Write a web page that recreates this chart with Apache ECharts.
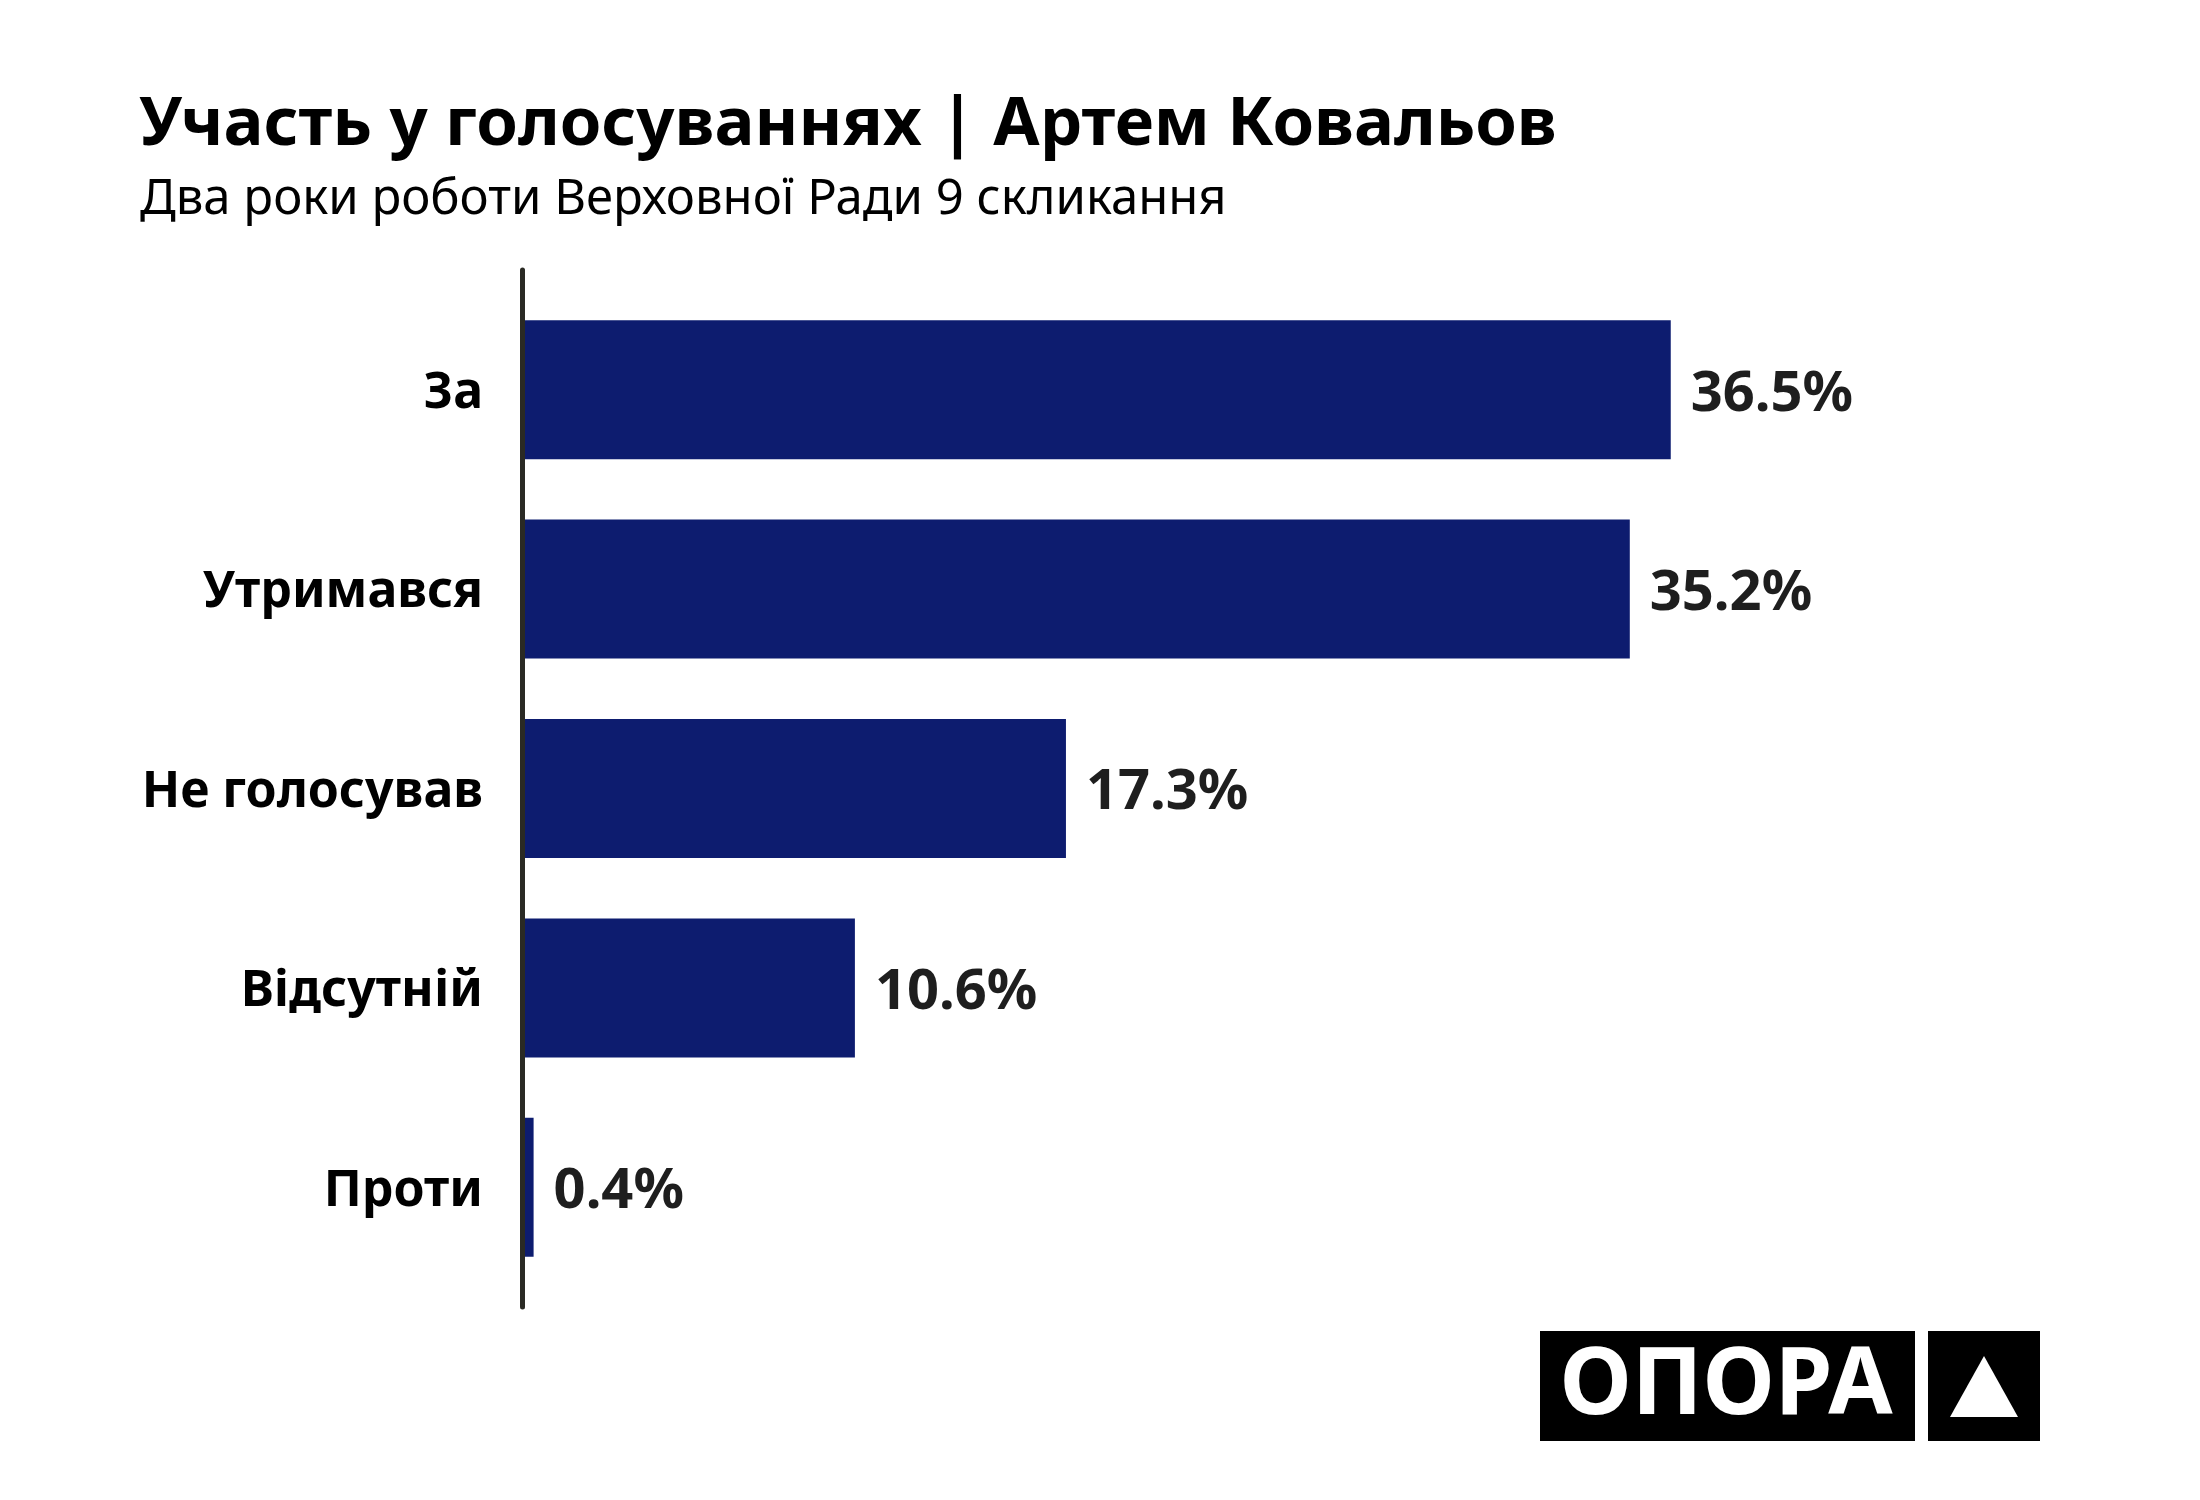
<!DOCTYPE html>
<html>
<head>
<meta charset="utf-8">
<title>Участь у голосуваннях | Артем Ковальов</title>
<script src="https://cdn.jsdelivr.net/npm/echarts@6/dist/echarts.min.js"></script>
<style>
  html, body { margin: 0; padding: 0; background: #ffffff; }
  #chart { width: 2200px; height: 1500px; }
</style>
</head>
<body>
<div id="chart"></div>
<script>
// categories, top to bottom as drawn
var categories = ['За', 'Утримався', 'Не голосував', 'Відсутній', 'Проти'];
// share of votes, %
var shares = [36.5, 35.2, 17.3, 10.6, 0.4];

var titleText = 'Участь у голосуваннях | Артем Ковальов';
var subtitleText = 'Два роки роботи Верховної Ради 9 скликання';

var barColor = '#0d1c6f';
var font = '"Noto Sans", "Open Sans", sans-serif';

var option = {
	backgroundColor: '#ffffff',
	animation: false,
	title: [
		{
			text: titleText,
			left: 134,
			top: 87,
			textStyle: { fontFamily: font, fontSize: 67, fontWeight: 'bold', color: '#000000' }
		},
		{
			text: subtitleText,
			left: 135,
			top: 171,
			textStyle: { fontFamily: font, fontSize: 49, fontWeight: 'normal', color: '#000000' }
		}
	],
	grid: [
		{ left: 521, top: 290, width: 1260, height: 997, containLabel: false },
		// only carries the vertical axis line, a bit taller than the bars area
		{ left: 522, top: 270, width: 10, height: 1037, containLabel: false }
	],
	xAxis: [
		{
			gridIndex: 0,
			type: 'value',
			min: 0,
			max: 40,
			show: false
		},
		{
			gridIndex: 1,
			type: 'value',
			show: false
		}
	],
	yAxis: [
		{
			gridIndex: 0,
			type: 'category',
			inverse: true,
			data: categories,
			axisLine: { show: false },
			axisTick: { show: false },
			splitLine: { show: false },
			axisLabel: {
				margin: 38,
				formatter: function (v) { return '{c|' + v + '}'; },
				rich: {
					c: {
						padding: [8, 0, 0, 0],
						fontFamily: font,
						fontSize: 50,
						fontWeight: 'bold',
						color: '#000000'
					}
				}
			}
		},
		{
			gridIndex: 1,
			type: 'category',
			data: categories,
			z: 5,
			axisLine: { show: true, lineStyle: { color: '#2a2a24', width: 5 } },
			axisTick: { show: false },
			axisLabel: { show: false },
			splitLine: { show: false }
		}
	],
	series: [
		{
			type: 'bar',
			xAxisIndex: 0,
			yAxisIndex: 0,
			data: shares,
			barWidth: 139,
			itemStyle: { color: barColor },
			label: {
				show: true,
				position: 'right',
				distance: 20,
				offset: [0, 5],
				fontFamily: font,
				fontSize: 56,
				fontWeight: 'bold',
				color: '#1e1e1e',
				formatter: function (p) { return p.value.toFixed(1) + '%'; }
			}
		}
	],
	graphic: [
		// OPORA logo, bottom right
		{
			type: 'rect',
			shape: { x: 1540, y: 1331, width: 375, height: 110 },
			style: { fill: '#000000' }
		},
		{
			type: 'text',
			x: 1726,
			y: 1387,
			style: {
				text: 'ОПОРА',
				fill: '#ffffff',
				fontFamily: font,
				fontSize: 93,
				fontWeight: 'bold',
				align: 'center',
				verticalAlign: 'middle'
			}
		},
		{
			type: 'rect',
			shape: { x: 1928, y: 1331, width: 112, height: 110 },
			style: { fill: '#000000' }
		},
		{
			type: 'polygon',
			shape: { points: [[1984, 1356], [2018, 1417], [1950, 1417]] },
			style: { fill: '#ffffff' }
		}
	]
};

var myChart = echarts.init(document.getElementById('chart'));
myChart.setOption(option);
</script>
</body>
</html>
